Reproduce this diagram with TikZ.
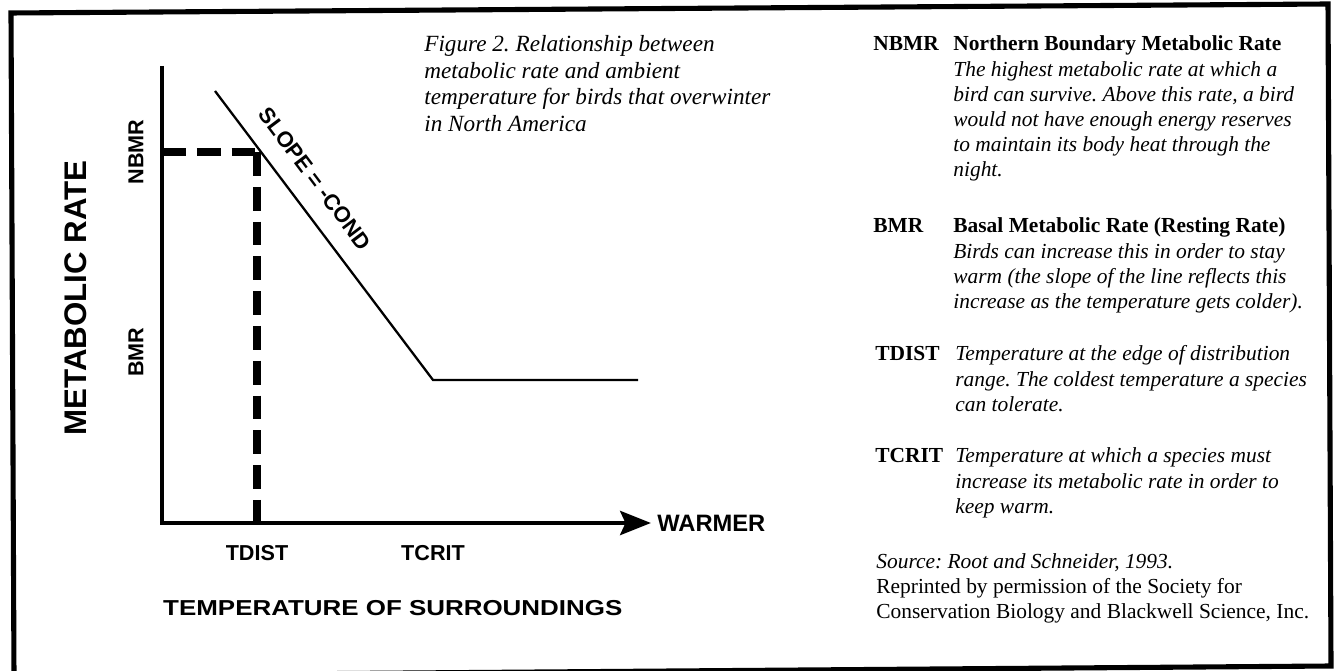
\documentclass[tikz,border=0pt]{standalone}
\usepackage{fontspec}
\setmainfont{Liberation Serif}
\setsansfont{Liberation Sans}
\newfontfamily\widesans[FakeStretch=1.2]{Liberation Sans}
\usepackage{tikz}
\usetikzlibrary{positioning}
\usetikzlibrary{arrows.meta}
\tikzset{
	scanframe/.style={line width=2.9pt, line join=miter},
	axisline/.style={line width=2.8pt},
	guideline/.style={line width=4.5pt, dash pattern=on 13.6pt off 6.2pt},
	rateline/.style={line width=1.3pt},
	ticklabel/.style={inner sep=0pt, font=\sffamily\bfseries\fontsize{12.3}{14}\selectfont},
	axislabel/.style={inner sep=0pt, font=\sffamily\bfseries\fontsize{17.8}{20}\selectfont},
	templabel/.style={inner sep=0pt, font=\widesans\bfseries\fontsize{12.3}{14}\selectfont},
	keyterm/.style={inner sep=0pt, anchor=base west, font=\bfseries\fontsize{12.2}{14.3}\selectfont},
	keytext/.style={inner sep=0pt, anchor=base west, font=\itshape\fontsize{12.2}{14.3}\selectfont},
}
\newcommand{\keylines}[1]{\begin{tabular}[t]{@{}l@{}}#1\end{tabular}}
\frenchspacing

\begin{document}
\begin{tikzpicture}[x=0.02cm, y=-0.02cm]
	
	% ---------------------
	% Proper size --- Bounding box
	\useasboundingbox (0,0) rectangle (1338,671);
	
	% ---------------------
	% Frame (scan is a little askew)
	\draw[scanframe] (11,13) -- (1328,4) -- (1331,666) -- (14,676) -- cycle;
	
	% ---------------------
	% Axes & curve
	
	\coordinate (Origin) at (162,523);
	
	\path (Origin) +(0,-457) coordinate (Ytop);
	\path (Origin) +(489,0) coordinate (Xend);
	
	\path (Origin) +(0,-371) coordinate (Nbmr);
	\path (Nbmr) +(95,0) coordinate (Knee);
	\path (Origin) +(95,0) coordinate (Tdist);
	
	\coordinate (SlopeTop) at (215,91);
	\coordinate (Tcrit) at (433,380);
	\coordinate (FlatEnd) at (638,380);
	\coordinate (TcritAxis) at (Tcrit |- Origin);
	
	\draw[axisline, -{Stealth[length=17.5pt, width=13.6pt, inset=3pt]}] (Ytop) -- (Origin) -- (Xend);
	\draw[guideline] (Nbmr) -- (Knee);
	\draw[guideline] (Knee) -- (Tdist);
	\draw[rateline] (SlopeTop) -- (Tcrit) -- (FlatEnd);
	
	% ---------------------
	% Axis labels
	
	\path (SlopeTop) -- (Tcrit) coordinate[pos=0.36] (SlopeMid);
	\path (SlopeMid) +(21.6,-16.2) node[ticklabel, rotate=-53.1, font=\sffamily\bfseries\fontsize{12.5}{14}\selectfont] (Slope) {SLOPE = -COND};
	
	\path (Nbmr) +(-26,0) node[ticklabel, rotate=90] (NbmrLabel) {NBMR};
	\path (Origin) +(-26,-171) node[ticklabel, rotate=90] (BmrLabel) {BMR};
	\node[axislabel, rotate=90] (RateLabel) at (76,298) {METABOLIC RATE};
	
	\node[ticklabel, below=12.8pt of Tdist] (TdistLabel) {TDIST};
	\node[ticklabel, below=12.8pt of TcritAxis] (TcritLabel) {TCRIT};
	\node[ticklabel, font=\sffamily\bfseries\fontsize{13.5}{16}\selectfont, right=3.4pt of Xend] (Warmer) {WARMER};
	\node[templabel, below right=43.7pt and 0.5pt of Origin] (TempLabel) {TEMPERATURE OF SURROUNDINGS};
	
	% ---------------------
	% Caption
	\node[keytext, font=\itshape\fontsize{13.2}{15}\selectfont] (Caption) at (424,52) {\keylines{Figure 2. Relationship between\\metabolic rate and ambient\\temperature for birds that overwinter\\in North America}};
	
	% ---------------------
	% Key
	
	\coordinate (KeyNbmr) at (873,51);
	\coordinate (KeyBmr) at (873,233);
	\coordinate (KeyTdist) at (875,361);
	\coordinate (KeyTcrit) at (875,463);
	\coordinate (Credit) at (876,568);
	
	\node[keyterm] (NbmrTerm) at (KeyNbmr) {NBMR};
	\path (KeyNbmr) +(80,0) node[keytext] (NbmrText) {\keylines{\textbf{\upshape Northern Boundary Metabolic Rate}\\The highest metabolic rate at which a\\bird can survive. Above this rate, a bird\\would not have enough energy reserves\\to maintain its body heat through the\\night.}};
	
	\node[keyterm] (BmrTerm) at (KeyBmr) {BMR};
	\path (KeyBmr) +(80,0) node[keytext] (BmrText) {\keylines{\textbf{\upshape Basal Metabolic Rate (Resting Rate)}\\Birds can increase this in order to stay\\warm (the slope of the line reflects this\\increase as the temperature gets colder).}};
	
	\node[keyterm] (TdistTerm) at (KeyTdist) {TDIST};
	\path (KeyTdist) +(80,0) node[keytext] (TdistText) {\keylines{Temperature at the edge of distribution\\range. The coldest temperature a species\\can tolerate.}};
	
	\node[keyterm] (TcritTerm) at (KeyTcrit) {TCRIT};
	\path (KeyTcrit) +(80,0) node[keytext] (TcritText) {\keylines{Temperature at which a species must\\increase its metabolic rate in order to\\keep warm.}};
	
	\node[keytext, font=\fontsize{12.2}{14.3}\selectfont] (CreditText) at (Credit) {\keylines{\textit{Source: Root and Schneider, 1993.}\\Reprinted by permission of the Society for\\Conservation Biology and Blackwell Science, Inc.}};
	
\end{tikzpicture}
\end{document}
